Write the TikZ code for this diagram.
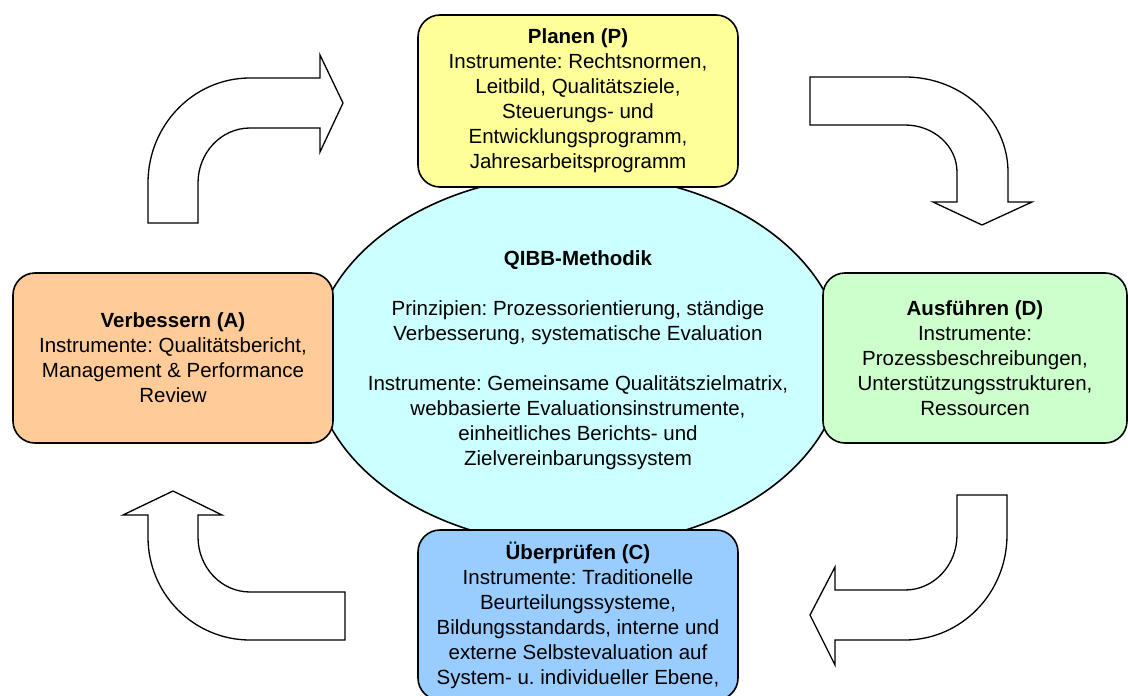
\documentclass[tikz,border=0pt]{standalone}
\usepackage{fontspec}
\setmainfont{Liberation Sans}
\usetikzlibrary{shapes.geometric}
\frenchspacing

\definecolor{planyellow}{RGB}{255,255,153}
\definecolor{doGreen}{RGB}{204,255,204}
\definecolor{checkBlue}{RGB}{153,204,255}
\definecolor{actOrange}{RGB}{255,204,153}
\definecolor{qibbCyan}{RGB}{204,255,255}

\begin{document}
\begin{tikzpicture}[x=1pt,y=-1pt,
                    every node/.style={font=\fontsize{20.5}{25}\selectfont,align=center}]
  \tikzstyle{phase}=[draw=black,line width=1.6pt,rounded corners=22pt,
                     minimum width=320pt,minimum height=170pt]
  \tikzstyle{bentarrow}=[draw=black,fill=white,line width=1.3pt]

  \useasboundingbox (0,0) rectangle (1128,696);
  \clip (0,0) rectangle (1128,696);

  % centre
  \node[ellipse,draw=black,line width=1.6pt,fill=qibbCyan,
        minimum width=530pt,minimum height=372pt] (qibb) at (578,360) {};
  \node (qibbtext) at (qibb.center) {\textbf{QIBB-Methodik}\\[25pt]
        Prinzipien: Prozessorientierung, ständige\\
        Verbesserung, systematische Evaluation\\[25pt]
        Instrumente: Gemeinsame Qualitätszielmatrix,\\
        webbasierte Evaluationsinstrumente,\\
        einheitliches Berichts- und\\
        Zielvereinbarungssystem};

  % the four phases
  \node[phase,fill=planyellow,minimum height=172pt] (plan) at (578,101)
        {\textbf{Planen (P)}\\Instrumente: Rechtsnormen,\\Leitbild, Qualitätsziele,\\
         Steuerungs- und\\Entwicklungsprogramm,\\Jahresarbeitsprogramm};
  \node[phase,fill=doGreen,minimum width=304pt] (do) at (975,358)
        {\textbf{Ausführen (D)}\\Instrumente:\\Prozessbeschreibungen,\\
         Unterstützungsstrukturen,\\Ressourcen};
  \node[phase,fill=checkBlue] (check) at (578,615)
        {\textbf{Überprüfen (C)}\\Instrumente: Traditionelle\\Beurteilungssysteme,\\
         Bildungsstandards, interne und\\externe Selbstevaluation auf\\
         System- u. individueller Ebene,};
  \node[phase,fill=actOrange] (act) at (173,358)
        {\textbf{Verbessern (A)}\\Instrumente: Qualitätsbericht,\\
         Management \& Performance\\Review};

  % block arrows
  \draw[bentarrow] (148,223) -- (148,183)
        arc[start angle=180,end angle=270,x radius=102,y radius=105]
        -- (320,78) -- (320,55) -- (343,103) -- (320,152) -- (320,128) -- (250,128)
        arc[start angle=270,end angle=180,x radius=52,y radius=55]
        -- (198,223) -- cycle;
  \draw[bentarrow] (810,77) -- (905,77)
        arc[start angle=270,end angle=360,x radius=103,y radius=95]
        -- (1008,202) -- (1032,202) -- (982,225) -- (933,202) -- (957,202) -- (957,172)
        arc[start angle=0,end angle=-90,x radius=52,y radius=47]
        -- (810,125) -- cycle;
  \draw[bentarrow] (957,495) -- (1007,495) -- (1007,535)
        arc[start angle=0,end angle=90,x radius=102,y radius=105]
        -- (835,640) -- (835,665) -- (810,615) -- (835,567) -- (835,590) -- (905,590)
        arc[start angle=90,end angle=0,x radius=52,y radius=55]
        -- cycle;
  \draw[bentarrow] (148,515) -- (123,515) -- (173,491) -- (222,515) -- (198,515) -- (198,537)
        arc[start angle=180,end angle=90,x radius=52,y radius=55]
        -- (345,592) -- (345,640) -- (250,640)
        arc[start angle=90,end angle=180,x radius=102,y radius=103]
        -- cycle;
\end{tikzpicture}
\end{document}
